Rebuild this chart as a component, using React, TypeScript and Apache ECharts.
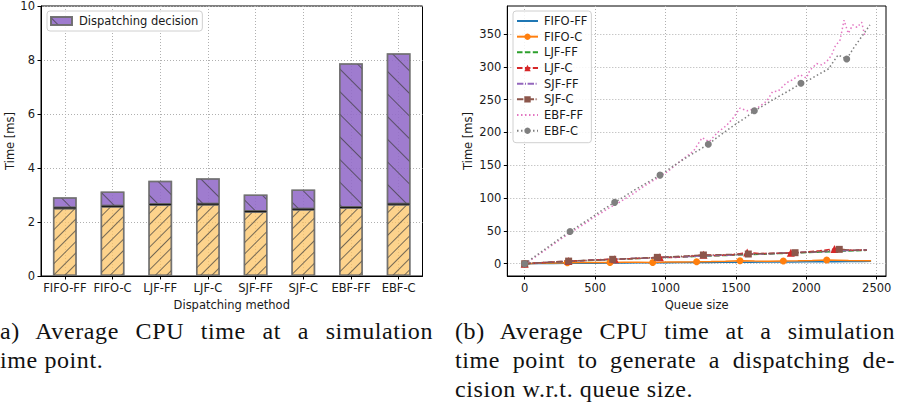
import React, { useEffect, useRef } from "react";
import * as echarts from "echarts";

// ---------- Left chart data ----------
const methods = ["FIFO-FF", "FIFO-C", "LJF-FF", "LJF-C", "SJF-FF", "SJF-C", "EBF-FF", "EBF-C"];
const otherTime = [2.52, 2.58, 2.65, 2.66, 2.39, 2.47, 2.54, 2.66];
const decisionTime = [0.4, 0.55, 0.88, 0.96, 0.63, 0.73, 5.34, 5.59];
const timeTicksA = [0, 2, 4, 6, 8, 10];

// ---------- Right chart data ----------
const queueTicks = [0, 500, 1000, 1500, 2000, 2500];
const timeTicksB = [0, 50, 100, 150, 200, 250, 300, 350];

const fifoFfX = [0, 100, 200, 300, 400, 500, 600, 700, 800, 900, 1000, 1100, 1200, 1300, 1400, 1500, 1600, 1700, 1800, 1900, 2000, 2100, 2200, 2300, 2400, 2460];
const fifoFfY = [0, 0.2, 0.4, 0.6, 0.8, 0.9, 1.1, 1.2, 1.4, 1.5, 1.6, 1.8, 1.9, 2.0, 2.2, 2.3, 2.4, 2.6, 2.7, 2.8, 3.0, 3.1, 3.2, 3.3, 3.5, 3.6];

const fifoCX = [0, 101, 202, 303, 404, 505, 606, 707, 808, 909, 1013, 1117, 1221, 1324, 1426, 1529, 1632, 1734, 1837, 1940, 2042, 2145, 2300, 2460];
const fifoCY = [0, 0.6, 1.1, 1.6, 1.7, 1.9, 2.0, 2.2, 2.1, 2.0, 2.5, 2.8, 3.0, 3.4, 3.9, 4.6, 4.0, 3.8, 4.1, 4.4, 4.9, 5.6, 4.8, 4.5];

const ljfFfX = [0, 100, 200, 300, 400, 500, 600, 700, 800, 900, 1000, 1100, 1200, 1300, 1400, 1500, 1600, 1700, 1800, 1900, 2000, 2100, 2200, 2300, 2400, 2430];
const ljfFfY = [0, 1.2, 2.4, 3.5, 4.5, 5.4, 6.3, 7.1, 7.9, 8.7, 9.5, 10.2, 11.0, 11.7, 12.4, 13.2, 13.9, 14.6, 15.4, 16.2, 17.0, 17.8, 18.6, 19.4, 20.2, 20.6];

const ljfCX = [0, 103, 207, 310, 420, 530, 640, 747, 853, 960, 1063, 1167, 1270, 1373, 1477, 1580, 1683, 1787, 1890, 1993, 2097, 2200, 2315, 2430];
const ljfCY = [0, 1.5, 2.6, 4.0, 4.8, 6.2, 7.0, 7.6, 8.6, 9.8, 9.6, 11.2, 13.5, 12.4, 13.8, 17.0, 15.4, 16.0, 16.8, 18.0, 19.6, 22.5, 20.5, 21.0];

const sjfFfX = [0, 100, 200, 300, 400, 500, 600, 700, 800, 900, 1000, 1100, 1200, 1300, 1400, 1500, 1600, 1700, 1800, 1900, 2000, 2100, 2200, 2300, 2400, 2430];
const sjfFfY = [0, 1.3, 2.6, 3.7, 4.7, 5.6, 6.5, 7.4, 8.2, 9.0, 9.8, 10.6, 11.3, 12.1, 12.8, 13.6, 14.3, 15.0, 15.8, 16.6, 17.4, 18.2, 19.1, 20.0, 20.8, 21.2];

const sjfCX = [0, 104, 208, 312, 416, 520, 625, 730, 836, 942, 1051, 1160, 1269, 1375, 1482, 1588, 1699, 1809, 1920, 2025, 2129, 2234, 2330, 2430];
const sjfCY = [0, 1.4, 2.7, 4.0, 4.9, 5.8, 6.7, 7.6, 8.6, 9.7, 10.8, 12.0, 13.3, 13.6, 14.2, 14.8, 15.4, 16.1, 16.8, 17.8, 19.0, 21.9, 20.7, 21.0];

const ebfFfX = [0, 60, 120, 180, 240, 300, 360, 420, 480, 540, 600, 660, 720, 780, 840, 900, 960, 1020, 1080, 1140, 1200, 1260, 1310, 1370, 1435, 1480, 1529, 1580, 1657, 1720, 1760, 1800, 1861, 1900, 1955, 2000, 2026, 2074, 2110, 2145, 2180, 2204, 2240, 2268, 2298, 2330, 2360, 2393, 2417];
const ebfFfY = [0, 8, 17, 26, 35, 44, 52, 60, 69, 77, 85, 92, 100, 108, 117, 125, 133, 141, 152, 162, 172, 192, 186, 200, 211, 222, 237, 233, 238, 248, 262, 263, 276, 280, 288, 283, 295, 305, 303, 308, 318, 331, 341, 371, 351, 364, 360, 368, 346];

const ebfCX = [0, 65, 130, 195, 260, 322, 385, 450, 512, 575, 639, 705, 770, 833, 897, 961, 1030, 1098, 1165, 1235, 1304, 1370, 1435, 1500, 1565, 1631, 1697, 1763, 1830, 1896, 1962, 2027, 2092, 2158, 2225, 2287, 2340, 2400, 2452];
const ebfCY = [0, 10, 20, 30, 40, 49, 58, 67, 76, 85, 93.5, 102, 111, 119, 127, 135, 145, 155, 164, 173, 182, 193, 203, 213, 222, 233, 241, 250, 258, 266, 275, 281, 289, 297, 318, 312, 330, 348, 364];

const lineNames = ["FIFO-FF", "FIFO-C", "LJF-FF", "LJF-C", "SJF-FF", "SJF-C", "EBF-FF", "EBF-C"];
const noMarkerNames = ["FIFO-FF", "LJF-FF", "SJF-FF", "EBF-FF"];

const FONT = "'DejaVu Sans', sans-serif";
const TXT = "#1a1a1a";

function pts(xs: number[], ys: number[], every: number) {
  return xs.map((x, i) =>
    every > 0 && i % every === 0 ? { value: [x, ys[i]] } : { value: [x, ys[i]], symbol: "none" }
  );
}

function lineSeries(name: string, xs: number[], ys: number[], color: string, type: any, symbol: string, every: number, size = 7) {
  return {
    name,
    type: "line",
    xAxisIndex: 1,
    yAxisIndex: 1,
    data: pts(xs, ys, every),
    symbol,
    symbolSize: size,
    showSymbol: symbol !== "none",
    color,
    itemStyle: { color, borderWidth: 0 },
    lineStyle: { color, width: 1.5, type },
    emphasis: { disabled: true },
    z: 3,
  };
}

const gridLine = { show: true, lineStyle: { color: "#b0b0b0", width: 1, type: [1, 2] } };
const tick = { show: true, length: 3.5, inside: false, lineStyle: { color: "#000", width: 1 } };
const axLine = { show: true, onZero: false, lineStyle: { color: "#000", width: 1 } };
const lbl = { color: TXT, fontSize: 11.5, fontFamily: FONT };
const plain = (v: number) => String(v);

export default function App() {
  const ref = useRef<HTMLDivElement>(null);
  useEffect(() => {
    if (!ref.current) return;
    const chart = echarts.init(ref.current, undefined, { renderer: "svg" });
    const option: any = {
      animation: false,
      textStyle: { fontFamily: FONT, color: TXT },
      grid: [
        { left: 41, top: 6, width: 381.5, height: 270, show: true, borderColor: "#000", borderWidth: 1, backgroundColor: "transparent" },
        { left: 507.3, top: 6, width: 378.7, height: 270, show: true, borderColor: "#000", borderWidth: 1, backgroundColor: "transparent" },
      ],
      legend: [
        {
          data: ["Dispatching decision"],
          left: 47,
          top: 11,
          orient: "horizontal",
          icon: "rect",
          itemWidth: 21,
          itemHeight: 8,
          padding: [4, 4, 4, 3],
          borderColor: "#d0d0d0",
          borderWidth: 1,
          borderRadius: 3,
          backgroundColor: "rgba(255,255,255,0.85)",
          textStyle: { ...lbl, padding: [0, 0, 0, 2] },
        },
        {
          data: lineNames.map((n) =>
            noMarkerNames.indexOf(n) >= 0 ? { name: n, itemStyle: { opacity: 0 } } : { name: n }
          ),
          left: 513,
          top: 11,
          orient: "vertical",
          itemWidth: 21,
          itemHeight: 8,
          itemGap: 1.67,
          padding: [3, 4, 5, 3],
          borderColor: "#d0d0d0",
          borderWidth: 1,
          borderRadius: 3,
          backgroundColor: "rgba(255,255,255,0.85)",
          textStyle: { ...lbl, lineHeight: 14, padding: [0, 0, 0, 1] },
        },
      ],
      xAxis: [
        {
          gridIndex: 0,
          type: "category",
          data: methods,
          boundaryGap: true,
          axisLine: axLine,
          axisTick: { ...tick, alignWithLabel: true },
          axisLabel: { ...lbl, margin: 6, interval: 0 },
          splitLine: { ...gridLine, alignWithLabel: true },
          name: "Dispatching method",
          nameLocation: "middle",
          nameGap: 19,
          nameTextStyle: { ...lbl },
        },
        {
          gridIndex: 1,
          type: "value",
          min: -123.6,
          max: 2566,
          splitNumber: 5,
          axisLine: axLine,
          axisTick: { ...tick, customValues: queueTicks },
          axisLabel: { ...lbl, margin: 6, customValues: queueTicks, formatter: plain },
          splitLine: gridLine,
          name: "Queue size",
          nameLocation: "middle",
          nameGap: 19,
          nameTextStyle: { ...lbl },
        },
      ],
      yAxis: [
        {
          gridIndex: 0,
          type: "value",
          min: timeTicksA[0],
          max: timeTicksA[timeTicksA.length - 1],
          interval: 2,
          axisLine: axLine,
          axisTick: tick,
          axisLabel: { ...lbl, margin: 6, formatter: plain },
          splitLine: gridLine,
          name: "Time [ms]",
          nameLocation: "middle",
          nameGap: 24,
          nameTextStyle: { ...lbl },
        },
        {
          gridIndex: 1,
          type: "value",
          min: -18.7,
          max: 392.7,
          splitNumber: 8,
          axisLine: axLine,
          axisTick: { ...tick, customValues: timeTicksB },
          axisLabel: { ...lbl, margin: 6, customValues: timeTicksB, formatter: plain },
          splitLine: gridLine,
          name: "Time [ms]",
          nameLocation: "middle",
          nameGap: 33,
          nameTextStyle: { ...lbl },
        },
      ],
      series: [
        {
          name: "Other",
          type: "bar",
          stack: "t",
          xAxisIndex: 0,
          yAxisIndex: 0,
          barWidth: "50%",
          data: otherTime,
          itemStyle: {
            color: "rgba(252,196,101,0.75)",
            borderColor: "rgba(110,110,110,0.8)",
            borderWidth: 1.5,
            decal: { symbol: "rect", symbolSize: 1, dashArrayX: [1, 0], dashArrayY: [1, 7], rotation: -Math.PI / 4, color: "rgba(60,60,60,0.7)" },
          },
          emphasis: { disabled: true },
        },
        {
          name: "Dispatching decision",
          type: "bar",
          stack: "t",
          xAxisIndex: 0,
          yAxisIndex: 0,
          barWidth: "50%",
          data: decisionTime,
          itemStyle: {
            color: "rgba(146,106,200,0.88)",
            borderColor: "rgba(110,110,110,0.8)",
            borderWidth: 1.5,
            decal: { symbol: "rect", symbolSize: 1, dashArrayX: [1, 0], dashArrayY: [1, 15], rotation: Math.PI / 4, color: "rgba(60,60,60,0.7)" },
          },
          emphasis: { disabled: true },
        },
        {
          name: "boundary",
          type: "scatter",
          xAxisIndex: 0,
          yAxisIndex: 0,
          data: otherTime,
          symbol: "rect",
          symbolSize: [22, 1.2],
          itemStyle: { color: "#000" },
          silent: true,
          z: 5,
        },
        lineSeries("FIFO-FF", fifoFfX, fifoFfY, "#1f77b4", "solid", "none", 0),
        lineSeries("FIFO-C", fifoCX, fifoCY, "#ff7f0e", "solid", "circle", 3),
        lineSeries("LJF-FF", ljfFfX, ljfFfY, "#2ca02c", [5.5, 2.4], "none", 0),
        lineSeries("LJF-C", ljfCX, ljfCY, "#d62728", [5.5, 2.4], "triangle", 3, 8),
        lineSeries("SJF-FF", sjfFfX, sjfFfY, "#9467bd", [6.4, 1.6, 1, 1.6], "none", 0),
        lineSeries("SJF-C", sjfCX, sjfCY, "#8c564b", [6.4, 1.6, 1, 1.6], "rect", 3),
        lineSeries("EBF-FF", ebfFfX, ebfFfY, "#e377c2", [1.5, 2.5], "none", 0),
        lineSeries("EBF-C", ebfCX, ebfCY, "#7f7f7f", [1.5, 2.5], "circle", 5, 7),
      ],
    };
    chart.setOption(option);
    return () => chart.dispose();
  }, []);

  const cap: React.CSSProperties = {
    position: "absolute",
    fontFamily: "'Liberation Serif', 'Times New Roman', serif",
    fontSize: 24,
    lineHeight: "29px",
    letterSpacing: "0.6px",
    color: "#111",
    margin: 0,
  };
  const just: React.CSSProperties = { textAlign: "justify", textAlignLast: "justify" };

  return (
    <div style={{ position: "fixed", left: 0, top: 0, width: 897, height: 408, background: "#fff", overflow: "hidden" }}>
      <div ref={ref} style={{ position: "absolute", left: 0, top: 0, width: 897, height: 408 }} />
      <div style={{ ...cap, ...just, left: 0, top: 317, width: 433 }}>a) Average CPU time at a simulation</div>
      <div style={{ ...cap, left: 0, top: 346, width: 433 }}>ime point.</div>
      <div style={{ ...cap, ...just, left: 455, top: 317, width: 440 }}>(b) Average CPU time at a simulation</div>
      <div style={{ ...cap, ...just, left: 455, top: 346, width: 440 }}>time point to generate a dispatching de-</div>
      <div style={{ ...cap, left: 455, top: 375, width: 440 }}>cision w.r.t. queue size.</div>
    </div>
  );
}
